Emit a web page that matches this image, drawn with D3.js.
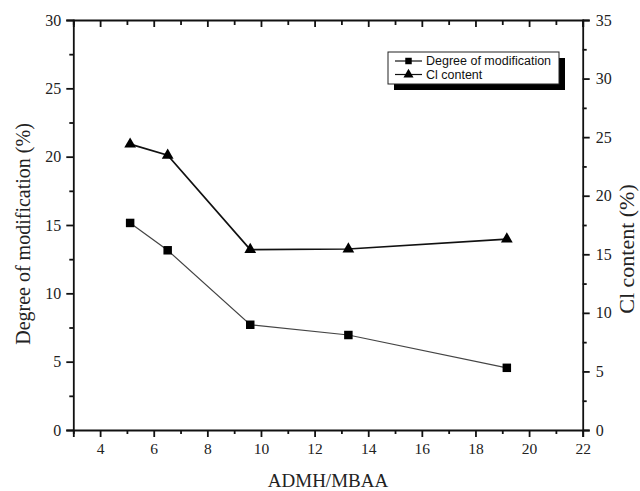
<!DOCTYPE html>
<html>
<head>
<meta charset="utf-8">
<script src="https://cdn.jsdelivr.net/npm/d3@7"></script>
<style>
  html, body { margin: 0; padding: 0; background: #fff; }
  svg { display: block; }
  .tick text { font-family: "Liberation Serif", "Times New Roman", serif; fill: #222; }
</style>
</head>
<body>
<svg id="chart" width="640" height="491"></svg>
<script>
// ADMH/MBAA molar ratio
const ratio = [5.12, 6.52, 9.6, 13.26, 19.17];
// Degree of modification (%), left axis
const modification = [15.15, 13.15, 7.7, 6.95, 4.55];
// Cl content (%), right axis
const clContent = [24.4, 23.45, 15.4, 15.45, 16.3];

const xMajor = [4, 6, 8, 10, 12, 14, 16, 18, 20, 22];
const xMinor = [3, 5, 7, 9, 11, 13, 15, 17, 19, 21];
const leftMajor = [0, 5, 10, 15, 20, 25, 30];
const leftMinor = [2.5, 7.5, 12.5, 17.5, 22.5, 27.5];
const rightMajor = [0, 5, 10, 15, 20, 25, 30, 35];
const rightMinor = [2.5, 7.5, 12.5, 17.5, 22.5, 27.5, 32.5];

const legendLabels = ["Degree of modification", "Cl content"];

const svg = d3.select("#chart");
const plot = { left: 73.3, right: 582.7, top: 20, bottom: 430 };

const x = d3.scaleLinear().domain([3, 22]).range([plot.left, plot.right]);
const yL = d3.scaleLinear().domain([0, 30]).range([plot.bottom, plot.top]);
const yR = d3.scaleLinear().domain([0, 35]).range([plot.bottom, plot.top]);

// bottom axis: outward ticks with labels, minor ticks unlabeled
const axBottom = svg.append("g").attr("transform", `translate(0,${plot.bottom})`);
axBottom.call(d3.axisBottom(x).tickValues(xMajor).tickSize(7).tickPadding(6).tickFormat(d3.format("d")));
axBottom.append("g").call(d3.axisBottom(x).tickValues(xMinor).tickSize(4).tickFormat(""))
  .select(".domain").remove();
axBottom.selectAll(".tick text").style("font-size", "15.5px");

// top axis: inward ticks only
const axTop = svg.append("g").attr("transform", `translate(0,${plot.top})`);
axTop.call(d3.axisTop(x).tickValues(xMajor).tickSize(-7).tickFormat(""));
axTop.append("g").call(d3.axisTop(x).tickValues(xMinor).tickSize(-5).tickFormat(""))
  .select(".domain").remove();

// left axis
const axLeft = svg.append("g").attr("transform", `translate(${plot.left},0)`);
axLeft.call(d3.axisLeft(yL).tickValues(leftMajor).tickSize(7).tickPadding(5).tickFormat(d3.format("d")));
axLeft.append("g").call(d3.axisLeft(yL).tickValues(leftMinor).tickSize(4).tickFormat(""))
  .select(".domain").remove();
axLeft.selectAll(".tick text").style("font-size", "16px");

// right axis
const axRight = svg.append("g").attr("transform", `translate(${plot.right},0)`);
axRight.call(d3.axisRight(yR).tickValues(rightMajor).tickSize(7).tickPadding(6).tickFormat(d3.format("d")));
axRight.append("g").call(d3.axisRight(yR).tickValues(rightMinor).tickSize(4).tickFormat(""))
  .select(".domain").remove();
axRight.selectAll(".tick text").style("font-size", "16px");

svg.selectAll(".domain").attr("stroke", "#111").attr("stroke-width", 1.8);
svg.selectAll(".tick line").attr("stroke", "#111").attr("stroke-width", 1.8);

// axis titles
const serif = '"Liberation Serif", "Times New Roman", serif';
svg.append("text")
  .attr("transform", "translate(23,234) rotate(-90)")
  .attr("text-anchor", "middle").attr("dominant-baseline", "central")
  .style("font-family", serif).style("font-size", "20px").attr("fill", "#222")
  .text("Degree of modification (%)");

svg.append("text")
  .attr("transform", "translate(626,249) rotate(-90)")
  .attr("text-anchor", "middle").attr("dominant-baseline", "central")
  .style("font-family", serif).style("font-size", "22px").attr("fill", "#222")
  .text("Cl content (%)");

svg.append("text")
  .attr("x", (plot.left + plot.right) / 2).attr("y", 487)
  .attr("text-anchor", "middle")
  .style("font-family", serif).style("font-size", "19px").attr("fill", "#222")
  .text("ADMH/MBAA");

// series
const modPts = ratio.map((r, i) => [x(r), yL(modification[i])]);
const clPts = ratio.map((r, i) => [x(r), yR(clContent[i])]);

svg.append("path").attr("d", d3.line()(modPts))
  .attr("fill", "none").attr("stroke", "#444").attr("stroke-width", 1.2);
svg.append("path").attr("d", d3.line()(clPts))
  .attr("fill", "none").attr("stroke", "#111").attr("stroke-width", 1.7);

const square = d3.symbol().type(d3.symbolSquare).size(72);
const triangle = d3.symbol().type(d3.symbolTriangle).size(60);

svg.append("g").selectAll("path").data(modPts).join("path")
  .attr("transform", d => `translate(${d[0]},${d[1]})`)
  .attr("d", square).attr("fill", "#000");

svg.append("g").selectAll("path").data(clPts).join("path")
  .attr("transform", d => `translate(${d[0]},${d[1]})`)
  .attr("d", triangle).attr("fill", "#000");

// legend box with drop shadow
const lg = svg.append("g").attr("transform", "translate(388,52)");
const lw = 171, lh = 32;
lg.append("rect").attr("x", 6).attr("y", 6).attr("width", lw).attr("height", lh).attr("fill", "#000");
lg.append("rect").attr("x", 0).attr("y", 0).attr("width", lw).attr("height", lh)
  .attr("fill", "#fff").attr("stroke", "#222").attr("stroke-width", 1);

const legendSymbols = [
  d3.symbol().type(d3.symbolSquare).size(42),
  d3.symbol().type(d3.symbolTriangle).size(44)
];
legendLabels.forEach((label, i) => {
  const cy = 9 + i * 13.5;
  lg.append("line").attr("x1", 7).attr("x2", 34).attr("y1", cy).attr("y2", cy)
    .attr("stroke", "#111").attr("stroke-width", 1.2);
  lg.append("path").attr("transform", `translate(20.5,${cy})`)
    .attr("d", legendSymbols[i]()).attr("fill", "#000");
  lg.append("text").attr("x", 38).attr("y", cy).attr("dominant-baseline", "central")
    .style("font-family", '"Liberation Sans", Arial, sans-serif').style("font-size", "12.5px")
    .attr("fill", "#111").text(label);
});
</script>
</body>
</html>
